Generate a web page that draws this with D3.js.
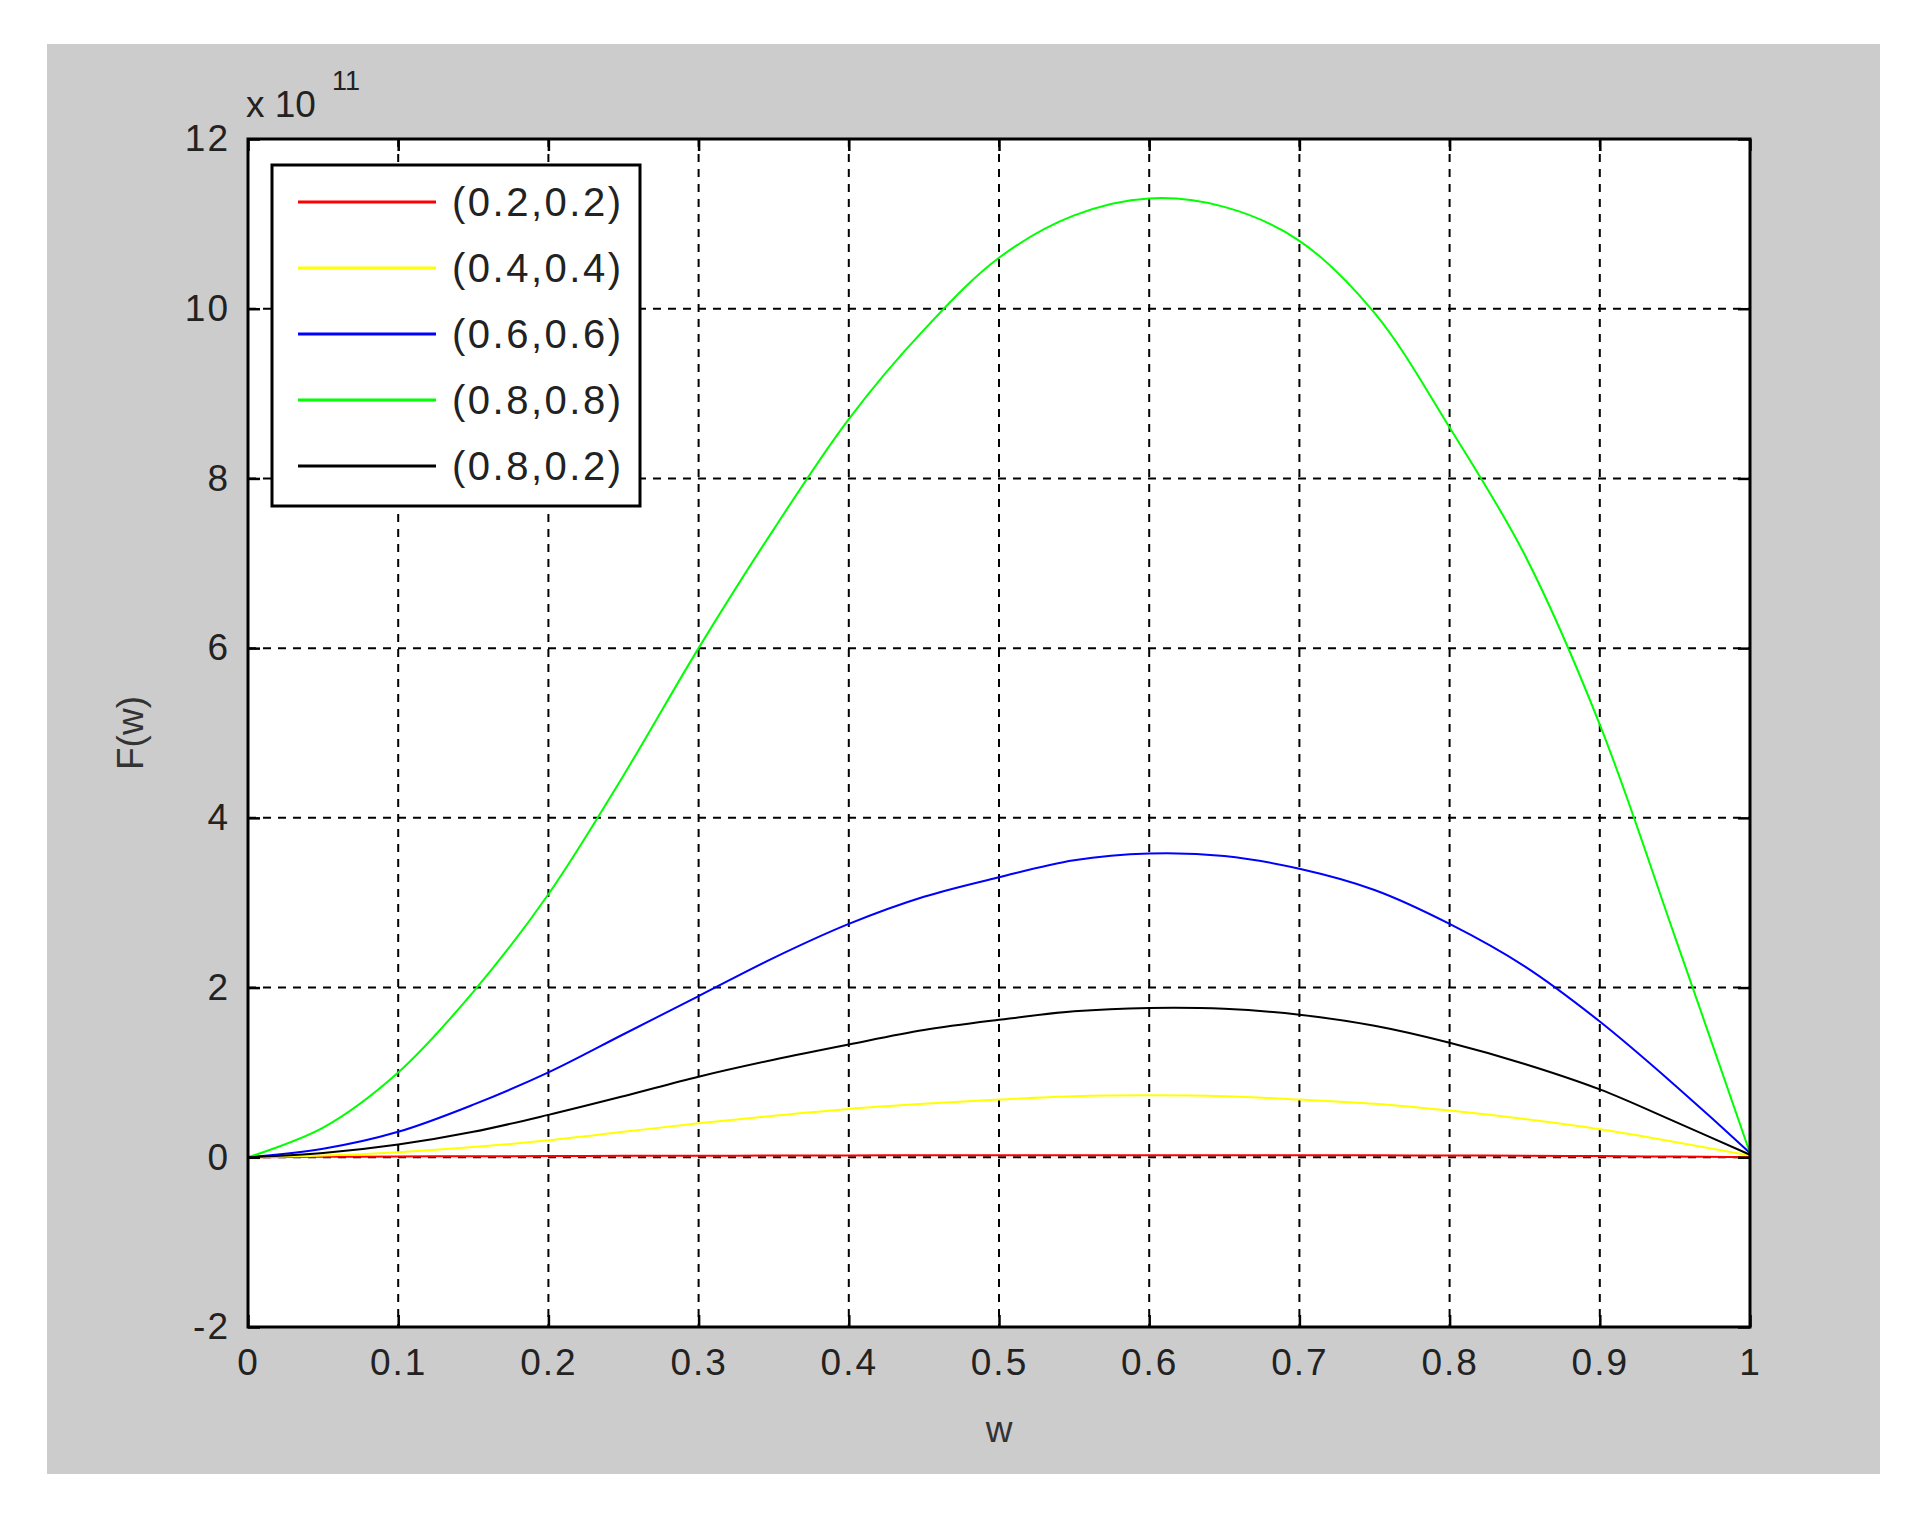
<!DOCTYPE html>
<html><head><meta charset="utf-8">
<script src="https://cdn.jsdelivr.net/npm/d3@7"></script>
<style>body{margin:0;background:#fff}text{font-family:"Liberation Sans",Arial,sans-serif}</style>
</head><body><svg id="c" width="1918" height="1525"></svg>
<script>
const xs = [0,0.05,0.1,0.15,0.2,0.25,0.3,0.35,0.4,0.45,0.5,0.55,0.6,0.65,0.7,0.75,0.8,0.85,0.9,0.95,1];
const red    = [0,0.005,0.01,0.012,0.015,0.017,0.019,0.02,0.022,0.023,0.024,0.025,0.025,0.025,0.024,0.023,0.021,0.018,0.014,0.008,0];
const yellow = [0,0.02,0.06,0.12,0.2,0.3,0.4,0.49,0.57,0.63,0.68,0.72,0.73,0.72,0.68,0.63,0.55,0.45,0.33,0.18,0.02];
const blue   = [0,0.1,0.3,0.62,1.0,1.45,1.9,2.35,2.75,3.07,3.3,3.5,3.58,3.55,3.4,3.15,2.75,2.25,1.6,0.85,0.05];
const green  = [0,0.35,1.0,1.95,3.1,4.5,6.0,7.4,8.7,9.75,10.6,11.1,11.3,11.2,10.8,9.95,8.6,7.1,5.1,2.6,0.05];
const black  = [0,0.05,0.15,0.3,0.5,0.72,0.95,1.15,1.33,1.5,1.62,1.72,1.76,1.75,1.68,1.55,1.35,1.1,0.8,0.42,0.03];
const seriesNames = ["(0.2,0.2)","(0.4,0.4)","(0.6,0.6)","(0.8,0.8)","(0.8,0.2)"];
const seriesColors = ["#ff0000","#ffff00","#0000ff","#00ff00","#000000"];
const seriesData = [red,yellow,blue,green,black];
const xTicks = [0,0.1,0.2,0.3,0.4,0.5,0.6,0.7,0.8,0.9,1];
const yTicks = [-2,0,2,4,6,8,10,12];

const svg = d3.select("#c");
svg.append("rect").attr("x",47).attr("y",44).attr("width",1833).attr("height",1430).attr("fill","#cccccc");
const L=248,R=1750,T=139,B=1327;
const x = d3.scaleLinear().domain([0,1]).range([L,R]);
const y = d3.scaleLinear().domain([-2,12]).range([B,T]);
svg.append("rect").attr("x",L).attr("y",T).attr("width",R-L).attr("height",B-T).attr("fill","#fff");
const g = svg.append("g");
xTicks.slice(1,-1).forEach(v=>g.append("line").attr("x1",x(v)).attr("x2",x(v)).attr("y1",T).attr("y2",B)
  .attr("stroke","#000").attr("stroke-width",2).attr("stroke-dasharray","8,7"));
yTicks.slice(1,-1).forEach(v=>g.append("line").attr("x1",L).attr("x2",R).attr("y1",y(v)).attr("y2",y(v))
  .attr("stroke","#000").attr("stroke-width",2).attr("stroke-dasharray","8,7"));
const line = d3.line().x((d,i)=>x(xs[i])).y(d=>y(d)).curve(d3.curveCatmullRom);
seriesData.forEach((s,k)=>g.append("path").attr("d",line(s)).attr("fill","none").attr("stroke",seriesColors[k]).attr("stroke-width",2));
const fmt = d=>String(d);
const xa = svg.append("g").attr("transform",`translate(0,${B})`).call(d3.axisBottom(x).tickValues(xTicks).tickFormat(fmt).tickSizeInner(-12).tickSizeOuter(0).tickPadding(22));
const xa2 = svg.append("g").attr("transform",`translate(0,${T})`).call(d3.axisTop(x).tickValues(xTicks).tickFormat("").tickSizeInner(-12).tickSizeOuter(0));
const ya = svg.append("g").attr("transform",`translate(${L},0)`).call(d3.axisLeft(y).tickValues(yTicks).tickFormat(fmt).tickSizeInner(-12).tickSizeOuter(0).tickPadding(18));
const ya2 = svg.append("g").attr("transform",`translate(${R},0)`).call(d3.axisRight(y).tickValues(yTicks).tickFormat("").tickSizeInner(-12).tickSizeOuter(0));
[xa,xa2,ya,ya2].forEach(a=>{a.selectAll("line").attr("stroke","#000").attr("stroke-width",2.5);a.select(".domain").remove();
  a.selectAll("text").attr("font-size",37).attr("fill","#222").attr("letter-spacing",2).attr("font-family","Liberation Sans, Arial, sans-serif");});
svg.append("rect").attr("x",L).attr("y",T).attr("width",R-L).attr("height",B-T).attr("fill","none").attr("stroke","#000").attr("stroke-width",3);
svg.append("text").attr("x",x(0.5)).attr("y",1442).attr("text-anchor","middle").attr("font-size",37).attr("fill","#333").text("w");
svg.append("text").attr("transform",`translate(143,${y(5)}) rotate(-90)`).attr("text-anchor","middle").attr("font-size",37).attr("fill","#333").text("F(w)");
svg.append("text").attr("x",246).attr("y",117).attr("font-size",37).attr("fill","#222").text("x 10");
svg.append("text").attr("x",332).attr("y",90).attr("font-size",27).attr("fill","#222").text("11");
const lg = svg.append("g");
lg.append("rect").attr("x",272).attr("y",165).attr("width",368).attr("height",341).attr("fill","#fff").attr("stroke","#000").attr("stroke-width",3);
seriesNames.forEach((n,i)=>{const yy=202+i*66;
  lg.append("line").attr("x1",298).attr("x2",436).attr("y1",yy).attr("y2",yy).attr("stroke",seriesColors[i]).attr("stroke-width",3);
  lg.append("text").attr("x",452).attr("y",yy+14).attr("font-size",40).attr("letter-spacing",2.5).attr("fill","#222").text(n);});
</script></body></html>
